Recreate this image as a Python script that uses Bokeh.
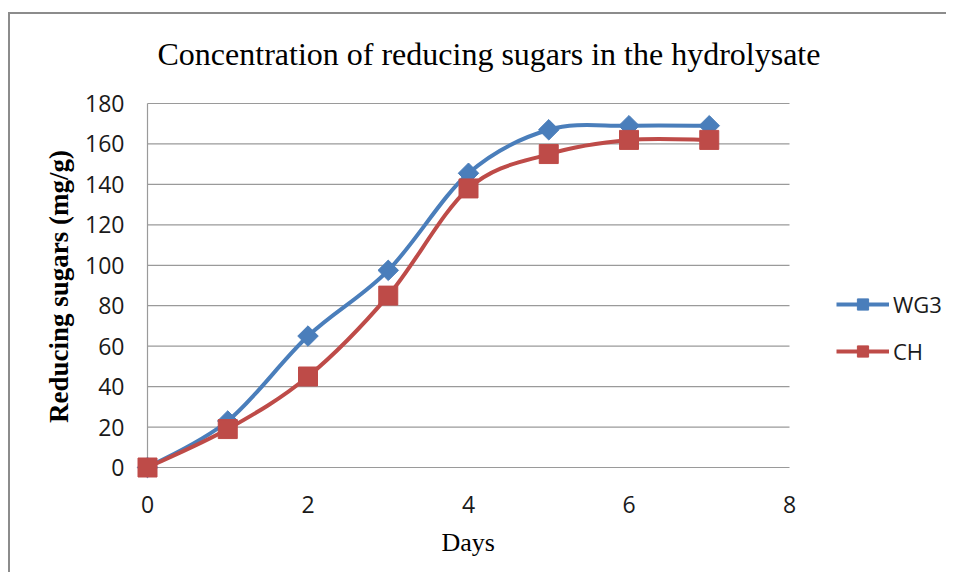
import numpy as np
from bokeh.plotting import figure
from bokeh.models import FixedTicker, Legend, LegendItem, Range1d, Title
from bokeh.embed import file_html
from bokeh.resources import INLINE

# ---------------- data ----------------
days = [0, 1, 2, 3, 4, 5, 6, 7]
wg3 = [0, 23, 65, 97.5, 145.5, 167, 169, 169]
ch = [0, 19, 45, 85, 138, 155, 162, 162]
series_names = ["WG3", "CH"]
x_ticks = [0, 2, 4, 6, 8]
y_ticks = [0, 20, 40, 60, 80, 100, 120, 140, 160, 180]
title_text = "Concentration of reducing sugars in the hydrolysate"
x_label = "Days"
y_label = "Reducing sugars (mg/g)"

# ---------------- style ----------------
BLUE = "#4a7ebb"
RED = "#be4b48"
GRID = "#9a9a9a"
SANS = "Open Sans"
SERIF = "Liberation Serif"

# pixel geometry
W, H = 938, 560
MB_L, MB_R, MB_T, MB_B = 117, 0, 79, 95
px_per_x = 80.25
px_per_y = 364 / 180.0
pad_l, pad_b, pad_t = 20, 12, 10
x_lo, x_hi = x_ticks[0], x_ticks[-1]
y_lo, y_hi = y_ticks[0], y_ticks[-1]
frame_w = W - MB_L - MB_R
xr_lo = x_lo - pad_l / px_per_x
xr_hi = xr_lo + frame_w / px_per_x

p = figure(
    width=W, height=H, output_backend="svg", toolbar_location=None,
    x_range=Range1d(xr_lo, xr_hi),
    y_range=Range1d(y_lo - pad_b / px_per_y, y_hi + pad_t / px_per_y),
    min_border_left=MB_L, min_border_right=MB_R, min_border_top=MB_T, min_border_bottom=MB_B,
    background_fill_color="white", border_fill_color="white",
)
p.styles = {"border-left": "2px solid #8c8c8c", "border-top": "2px solid #8c8c8c",
            "margin-top": "12px", "margin-left": "8px"}
p.outline_line_color = None
p.xgrid.visible = False
p.ygrid.visible = False

p.title = Title(text=title_text, align="left", offset=30, text_font=SERIF,
                text_font_size="32px", text_font_style="normal", text_color="black",
                vertical_align="top", standoff=40)

for ax in (p.xaxis[0], p.yaxis[0]):
    ax.axis_line_color = None
    ax.major_tick_line_color = None
    ax.minor_tick_line_color = None
    ax.major_tick_in = 0
    ax.major_tick_out = 0
    ax.major_label_text_font = SANS
    ax.major_label_text_font_size = "23px"
    ax.major_label_text_color = "#1a1a1a"
    ax.axis_label_text_font = SERIF
    ax.axis_label_text_color = "black"

p.xaxis.ticker = FixedTicker(ticks=x_ticks)
p.yaxis.ticker = FixedTicker(ticks=y_ticks)
p.xaxis.major_label_standoff = 16
p.yaxis.major_label_standoff = 3
p.yaxis.axis_label = y_label
p.yaxis.axis_label_text_font_size = "27px"
p.yaxis.axis_label_text_font_style = "bold"
p.yaxis.axis_label_standoff = 8

# x-axis title placed under the tick labels, centred on the 0-8 span
p.add_layout(Title(text=x_label, align="left", offset=314, text_font=SERIF,
                   text_font_size="26px", text_font_style="normal", text_color="black",
                   standoff=21), "below")

# gridlines and vertical axis line (from tick arrays)
p.segment(x0=[x_lo] * len(y_ticks), x1=[x_hi] * len(y_ticks), y0=y_ticks, y1=y_ticks,
          line_color=GRID, line_width=1.2)
p.segment(x0=[x_lo], x1=[x_lo], y0=[y_lo], y1=[y_hi], line_color=GRID, line_width=1.2)


def smooth(xs, ys):
    x = np.asarray(xs, float)
    y = np.asarray(ys, float)
    n = len(x)
    xp = np.concatenate([[x[0]], x, [x[-1]]])
    yp = np.concatenate([[y[0]], y, [y[-1]]])
    return dict(
        x0=x[:-1], y0=y[:-1], x1=x[1:], y1=y[1:],
        cx0=x[:-1] + (xp[2:n + 1] - xp[0:n - 1]) / 6.0,
        cy0=y[:-1] + (yp[2:n + 1] - yp[0:n - 1]) / 6.0,
        cx1=x[1:] - (xp[3:n + 2] - xp[1:n]) / 6.0,
        cy1=y[1:] - (yp[3:n + 2] - yp[1:n]) / 6.0,
    )


items = []
# WG3: diamond = square turned 45 degrees; CH: square
for name, ys, color, size, angle in [(series_names[0], wg3, BLUE, 14.5, np.pi / 4),
                                     (series_names[1], ch, RED, 19, 0.0)]:
    b = p.bezier(**smooth(days, ys), line_color=color, line_width=4)
    s = p.scatter(days, ys, marker="square", size=size, angle=angle,
                  fill_color=color, line_color=color)
    items.append(LegendItem(label=name, renderers=[b, s]))

legend = Legend(items=items, location=(709, 113), orientation="vertical",
                padding=0, margin=0, spacing=17, glyph_width=53, glyph_height=28,
                label_height=30, label_standoff=4, label_text_font=SANS,
                label_text_font_size="22px", label_text_color="#1a1a1a",
                border_line_color=None, background_fill_alpha=0)
p.add_layout(legend, "center")

open("out.html", "w").write(file_html(p, INLINE))
